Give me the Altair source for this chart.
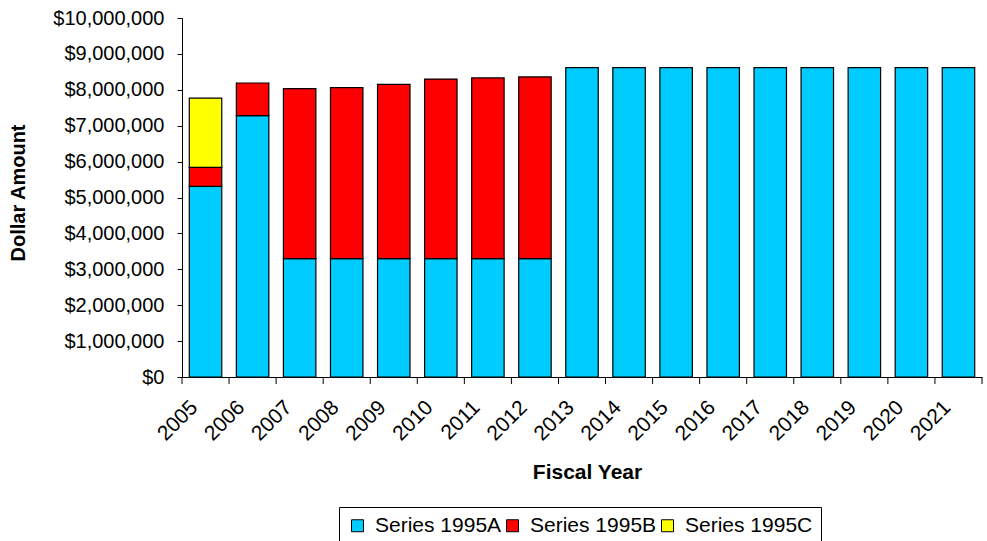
import altair as alt
import pandas as pd

years = ["2005", "2006", "2007", "2008", "2009", "2010", "2011", "2012", "2013",
         "2014", "2015", "2016", "2017", "2018", "2019", "2020", "2021"]
series_names = ["Series 1995A", "Series 1995B", "Series 1995C"]
series_colors = ["#00CCFF", "#FF0000", "#FFFF00"]

series_a = [5310000, 7280000, 3300000, 3300000, 3300000, 3300000, 3300000, 3300000,
            8620000, 8620000, 8620000, 8620000, 8620000, 8620000, 8620000, 8620000, 8620000]
series_b = [530000, 910000, 4730000, 4760000, 4850000, 5000000, 5030000, 5060000,
            0, 0, 0, 0, 0, 0, 0, 0, 0]
series_c = [1930000, 0, 0, 0, 0, 0, 0, 0,
            0, 0, 0, 0, 0, 0, 0, 0, 0]

y_ticks = [0, 1000000, 2000000, 3000000, 4000000, 5000000,
           6000000, 7000000, 8000000, 9000000, 10000000]

rows = []
for i, (name, vals) in enumerate(zip(series_names, [series_a, series_b, series_c])):
    for yr, v in zip(years, vals):
        if v > 0:
            rows.append({"Year": yr, "Series": name, "Amount": v, "Ord": i})
df = pd.DataFrame(rows)

W, H = 800, 359
PI = 0.31
step = W / len(years)
FONT = "Liberation Sans"

x_axis = alt.Axis(title="Fiscal Year", labelAngle=-45, labelAlign="right",
                  labelBaseline="middle", ticks=False, labelPadding=27, labelOffset=-11,
                  labelFontSize=21, labelColor="black",
                  domainColor="black", domainWidth=1,
                  titleFontSize=21, titleFontWeight="bold", titleColor="black",
                  titleX=405, titleY=95, titleAlign="center",
                  titleBaseline="middle", grid=False)
x_scale = alt.Scale(paddingInner=PI, paddingOuter=PI / 2)

bars = alt.Chart(df).mark_bar(stroke="black", strokeWidth=1.2).encode(
    x=alt.X("Year:N", sort=years, scale=x_scale, axis=x_axis),
    y=alt.Y("Amount:Q", stack="zero",
            scale=alt.Scale(domain=[0, 10000000], nice=False),
            axis=alt.Axis(title="Dollar Amount", values=y_ticks, format="$,.0f",
                          labelFontSize=20, labelColor="black", labelPadding=13,
                          tickSize=5, tickColor="black", domainColor="black",
                          domainWidth=1, grid=False,
                          titleFontSize=20, titleFontWeight="bold", titleColor="black",
                          titleX=-164, titleY=H / 2 - 5, titleAngle=-90,
                          titleAlign="center", titleBaseline="middle")),
    color=alt.Color("Series:N", scale=alt.Scale(domain=series_names, range=series_colors),
                    legend=alt.Legend(title=None, orient="none", direction="horizontal",
                                      legendX=157, legendY=489,
                                      strokeColor="black", fillColor="white",
                                      padding=8, cornerRadius=0,
                                      symbolType="square", symbolSize=144,
                                      symbolStrokeColor="black", symbolStrokeWidth=1,
                                      labelFontSize=21, labelColor="black",
                                      labelOffset=7, columnPadding=0)),
    order=alt.Order("Ord:Q", sort="ascending"),
)

tick_df = pd.DataFrame({"Year": years})
xticks = alt.Chart(tick_df).mark_rule(color="black", strokeWidth=1).encode(
    x=alt.X("Year:N", sort=years, scale=x_scale, axis=x_axis, bandPosition=0),
    xOffset=alt.value(-PI * step / 2),
    y=alt.value(H),
    y2=alt.value(H + 7),
)
end_tick = alt.Chart(tick_df.head(1)).mark_rule(color="black", strokeWidth=1).encode(
    x=alt.value(W),
    y=alt.value(H),
    y2=alt.value(H + 7),
)

chart = alt.layer(bars, xticks, end_tick).properties(
    width=W, height=H,
    autosize=alt.AutoSizeParams(type="none"),
    padding={"left": 182, "top": 18, "right": 5, "bottom": 164},
).configure(font=FONT).configure_view(stroke=None)

chart.save("out.html", embed_options={"renderer": "svg", "actions": False})
